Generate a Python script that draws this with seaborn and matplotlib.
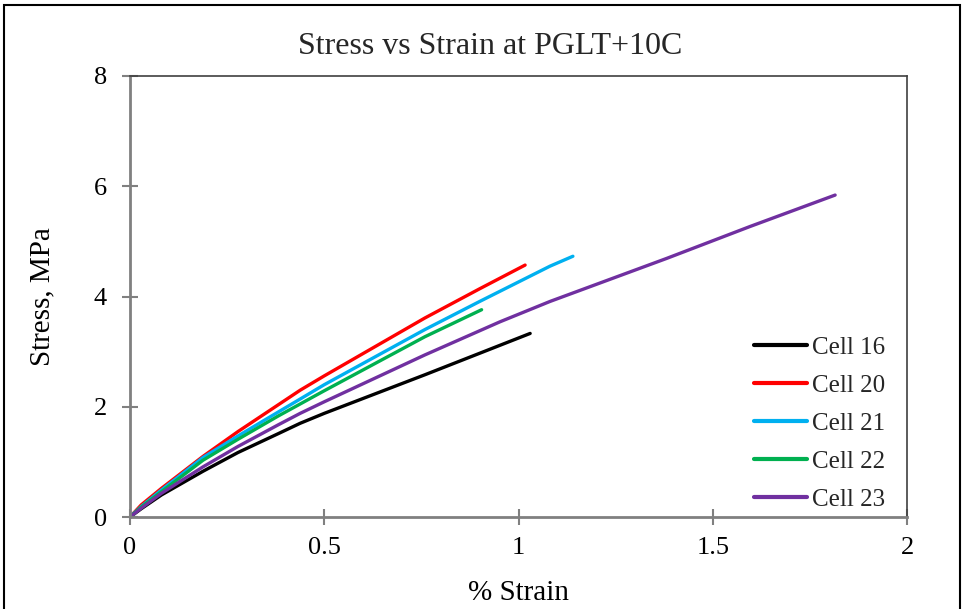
import numpy as np
import pandas as pd
import matplotlib
matplotlib.use("Agg")
import matplotlib.pyplot as plt
import seaborn as sns
from matplotlib.patches import Rectangle

# ---- data ----
cells = ["Cell 16", "Cell 20", "Cell 21", "Cell 22", "Cell 23"]

strain_16 = [0, 0.029, 0.081, 0.188, 0.278, 0.381, 0.438, 0.5, 0.759, 0.9, 1.03]
stress_16 = [0, 0.15, 0.40, 0.83, 1.17, 1.51, 1.70, 1.88, 2.58, 2.97, 3.33]

strain_20 = [0, 0.029, 0.081, 0.188, 0.278, 0.438, 0.5, 0.759, 0.9, 1.017]
stress_20 = [0, 0.22, 0.52, 1.10, 1.55, 2.30, 2.56, 3.61, 4.14, 4.57]

strain_21 = [0, 0.029, 0.081, 0.188, 0.278, 0.347, 0.438, 0.5, 0.759, 0.9, 1.081, 1.14]
stress_21 = [0, 0.19, 0.49, 1.08, 1.47, 1.76, 2.14, 2.40, 3.40, 3.91, 4.55, 4.73]

strain_22 = [0, 0.029, 0.081, 0.188, 0.278, 0.381, 0.438, 0.5, 0.759, 0.905]
stress_22 = [0, 0.18, 0.46, 1.03, 1.41, 1.83, 2.05, 2.29, 3.27, 3.76]

strain_23 = [0, 0.029, 0.081, 0.188, 0.278, 0.381, 0.438, 0.5, 0.759, 0.952, 1.081, 1.381, 1.596, 1.815]
stress_23 = [0, 0.16, 0.43, 0.91, 1.28, 1.67, 1.88, 2.09, 2.94, 3.54, 3.91, 4.69, 5.27, 5.84]

colors = ["#000000", "#FF0000", "#00B0F0", "#00B050", "#7030A0"]

x_ticks = [0, 0.5, 1, 1.5, 2]
x_tick_labels = ["0", "0.5", "1", "1.5", "2"]
y_ticks = [0, 2, 4, 6, 8]

title = "Stress vs Strain at PGLT+10C"
x_label = "% Strain"
y_label = "Stress, MPa"

# ---- build long-form table ----
frames = []
for name, xs, ys in zip(cells,
                        [strain_16, strain_20, strain_21, strain_22, strain_23],
                        [stress_16, stress_20, stress_21, stress_22, stress_23]):
    frames.append(pd.DataFrame({"strain": xs, "stress": ys, "cell": name}))
df = pd.concat(frames, ignore_index=True)

sns.set_theme(style="white")
plt.rcParams["font.family"] = ["Liberation Serif", "DejaVu Serif"]

fig = plt.figure(figsize=(9.65, 6.09), dpi=100)
ax = fig.add_axes([130 / 965, 1 - 517 / 609, (907 - 130) / 965, (517 - 76) / 609])

sns.lineplot(data=df, x="strain", y="stress", hue="cell", hue_order=cells,
             palette=colors, sort=False, estimator=None, linewidth=2.4,
             ax=ax, legend=True)
for ln in ax.get_lines():
    ln.set_solid_capstyle("round")
    ln.set_solid_joinstyle("round")

ax.set_xlim(0, 2)
ax.set_ylim(0, 8)
ax.set_xticks(x_ticks)
ax.set_xticklabels(x_tick_labels)
ax.set_yticks(y_ticks)
ax.tick_params(axis="both", which="major", direction="inout", length=11,
               width=1.5, color="#808080", labelsize=19, labelcolor="black",
               bottom=True, left=True)
ax.tick_params(axis="y", pad=11)
ax.tick_params(axis="x", pad=9)

for side in ["left", "bottom"]:
    ax.spines[side].set_color("#808080")
    ax.spines[side].set_linewidth(2)
for side in ["top", "right"]:
    ax.spines[side].set_color("#404040")
    ax.spines[side].set_linewidth(1.2)
    ax.spines[side].set_visible(True)

ax.set_xlabel(x_label, fontsize=21, color="black", labelpad=15)
ax.set_ylabel(y_label, fontsize=21, color="black", labelpad=28)
fig.text(490 / 965, 1 - 47 / 609, title, fontsize=23, ha="center", va="center")

leg = ax.legend(loc="lower right", bbox_to_anchor=(1.0 - 4 / 777, -11 / 441),
                frameon=False, fontsize=18, handlelength=2.15,
                handletextpad=0.2, labelspacing=0.62, borderaxespad=0.3)
for line in leg.get_lines():
    line.set_linewidth(3)

fig.patches.append(Rectangle((4 / 965, -0.02), (960 - 4) / 965, 1.02 - 5 / 609,
                             transform=fig.transFigure, fill=False,
                             edgecolor="black", linewidth=1.5))

fig.savefig("out.png", dpi=100)
